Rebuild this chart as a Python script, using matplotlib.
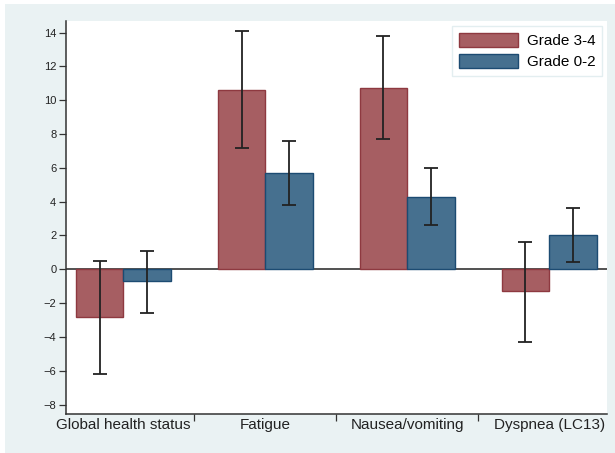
import matplotlib.pyplot as plt
import numpy as np
from matplotlib.patches import Rectangle

plt.rcParams['font.family'] = ['Liberation Sans', 'DejaVu Sans']

# mean change scores with 95% CI, by toxicity grade
domains = ["Global health status", "Fatigue", "Nausea/vomiting", "Dyspnea (LC13)"]
grade34_mean = [-2.8, 10.6, 10.7, -1.3]
grade34_lo = [-6.2, 7.2, 7.7, -4.3]
grade34_hi = [0.5, 14.1, 13.8, 1.6]
grade02_mean = [-0.7, 5.7, 4.3, 2.0]
grade02_lo = [-2.6, 3.8, 2.6, 0.4]
grade02_hi = [1.1, 7.6, 6.0, 3.6]
yticks = list(range(-8, 15, 2))

bg = "#eaf2f3"
red, red_edge = "#a65e62", "#8e3940"
blue, blue_edge = "#46708f", "#1c4b72"
ink = "#333333"

fig = plt.figure(figsize=(6.15, 4.53), dpi=100)
fig.patch.set_facecolor("white")
fig.patches.append(Rectangle((5 / 615, 0), 1, 1 - 4 / 453, transform=fig.transFigure,
                             facecolor=bg, edgecolor="none", zorder=-10))

ax = fig.add_axes([66 / 615, 1 - 414 / 453, 541 / 615, 393.3 / 453])
ax.set_facecolor("white")

x = np.arange(len(domains))
w = 0.335

def draw_group(xpos, mean, lo, hi, fc, ec, label):
    mean = np.array(mean)
    err = np.vstack([mean - np.array(lo), np.array(hi) - mean])
    ax.bar(xpos, mean, width=w, color=fc, edgecolor=ec, linewidth=1.0, label=label, zorder=2)
    ax.errorbar(xpos, mean, yerr=err, fmt="none", ecolor="#222222", elinewidth=1.3,
                capsize=4.7, capthick=1.3, zorder=3)

draw_group(x - w / 2, grade34_mean, grade34_lo, grade34_hi, red, red_edge, "Grade 3-4")
draw_group(x + w / 2, grade02_mean, grade02_lo, grade02_hi, blue, blue_edge, "Grade 0-2")

ax.axhline(0, color=ink, linewidth=1.2, zorder=1)

# category names centred under each group, ticks on the group boundaries
ax.set_xticks(x[:-1] + 0.5, [""] * (len(domains) - 1))
ax.set_xticks(x, domains, minor=True)
ax.tick_params(axis="x", which="major", length=5, width=0.9, color=ink)
ax.tick_params(axis="x", which="minor", length=0, labelsize=11, labelcolor="#222222", pad=3)

ax.set_yticks(yticks)
ax.tick_params(axis="y", labelsize=8, length=5, width=0.9, color=ink, labelcolor="#222222", pad=2)

ax.set_xlim(-0.405, 3.408)
ax.set_ylim(-8.56, 14.7)

for side in ("top", "right"):
    ax.spines[side].set_visible(False)
for side in ("left", "bottom"):
    ax.spines[side].set_color(ink)
    ax.spines[side].set_linewidth(1.1)

leg = ax.legend(loc="upper right", bbox_to_anchor=(0.991, 0.987), borderaxespad=0,
                fontsize=11, handlelength=3.85, handleheight=1.05, handletextpad=0.57,
                labelspacing=0.37, borderpad=0.45, fancybox=False, framealpha=1)
leg.get_frame().set_edgecolor("#e3eef0")
leg.get_frame().set_linewidth(1.0)

fig.savefig("out.png", dpi=100, facecolor=fig.get_facecolor())
